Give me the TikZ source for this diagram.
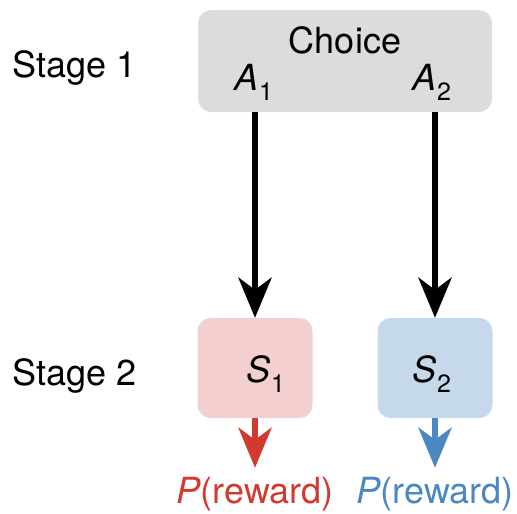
\documentclass[tikz,border=0pt]{standalone}
\usepackage{fontspec}
\setmainfont{TeX Gyre Heros}
\usepackage{xcolor}
\usepackage{tikz}
\usetikzlibrary{arrows.meta,positioning,calc}
\definecolor{choicegray}{HTML}{DCDCDC}
\definecolor{pinkfill}{HTML}{F3CFCF}
\definecolor{bluefill}{HTML}{C6D9EA}
\definecolor{rewardred}{HTML}{D03A30}
\definecolor{rewardblue}{HTML}{4A87C3}
\newcommand{\idx}[2]{\textit{#1}\kern1pt\raisebox{-10pt}{\fontsize{25}{25}\selectfont #2}}

\begin{document}
\begin{tikzpicture}[
  x=1pt,y=-1pt,
  every node/.style={font=\fontsize{36}{43}\selectfont,inner sep=0pt},
  box/.style={draw=none,rounded corners=13pt},
  lbl/.style={anchor=base},
  flow/.style={line width=6.5pt,-{Stealth[length=40pt,width=33pt,inset=12pt]}},
]
\useasboundingbox (0,0) rectangle (517,514);
% stage labels
\node[lbl,anchor=base west] (stage1) at (12,77)  {Stage 1};
\node[lbl,anchor=base west] (stage2) at (12,385) {Stage 2};
% first stage: choice
\node[box,fill=choicegray,minimum width=294pt,minimum height=102pt] (choice) at (345,61) {};
\node[lbl] (choicetxt) at (345,53) {Choice};
\node[lbl,anchor=base west] (a1) at (234,90) {\idx{A}{1}};
\node[lbl,anchor=base west] (a2) at (412,90) {\idx{A}{2}};
% second stage: states
\node[box,fill=pinkfill,minimum width=115pt,minimum height=100pt] (s1) at (255,368) {};
\node[box,fill=bluefill,minimum width=115pt,minimum height=100pt] (s2) at (435,368) {};
\node[lbl,anchor=base west] (s1txt) at (246,382) {\idx{S}{1}};
\node[lbl,anchor=base west] (s2txt) at (412,382) {\idx{S}{2}};
% outcomes
\node[lbl,text=rewardred,text height=25pt,text depth=7pt] (r1) at (255,503) {\textit{P}(reward)};
\node[lbl,text=rewardblue,text height=25pt,text depth=7pt] (r2) at (435,503) {\textit{P}(reward)};

% transitions
\draw[flow] (choice.south -| s1.north) -- (s1.north);
\draw[flow] (choice.south -| s2.north) -- (s2.north);
\draw[flow,rewardred]  (s1.south) -- ([yshift=10pt]r1.north);
\draw[flow,rewardblue] (s2.south) -- ([yshift=10pt]r2.north);
\end{tikzpicture}
\end{document}
